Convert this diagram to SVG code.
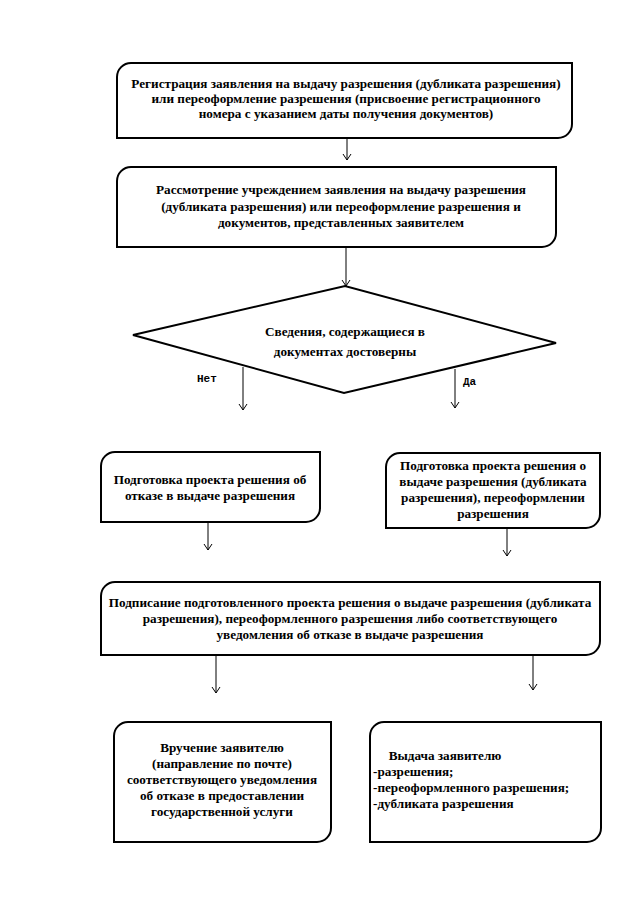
<svg xmlns="http://www.w3.org/2000/svg" width="640" height="905" viewBox="0 0 640 905">
<defs>
<marker id="v" markerWidth="10" markerHeight="10" refX="9" refY="5" orient="auto" markerUnits="userSpaceOnUse" viewBox="0 0 10 10">
<path d="M3,1 L9,5 L3,9" fill="none" stroke="#000" stroke-width="1"/>
</marker>
<style>
.box{fill:#fff;stroke:#000;stroke-width:2}
.t{font-family:"Liberation Serif","Times New Roman",serif;font-weight:bold;font-size:13.2px;fill:#000}
.c{text-anchor:middle}
.m{font-family:"Liberation Mono","Courier New",monospace;font-weight:bold;font-size:11px;fill:#000}
.ln{stroke:#000;stroke-width:1;fill:none;marker-end:url(#v)}
</style>
</defs>
<rect width="640" height="905" fill="#fff"/>
<g id="connectors">
<line class="ln" x1="347" y1="138" x2="347" y2="160"/>
<line class="ln" x1="346" y1="247" x2="346" y2="286"/>
<line class="ln" x1="243" y1="367" x2="243" y2="410"/>
<line class="ln" x1="455" y1="369" x2="455" y2="408"/>
<line class="ln" x1="208" y1="522" x2="208" y2="550"/>
<line class="ln" x1="507" y1="528" x2="507" y2="556"/>
<line class="ln" x1="216" y1="655" x2="216" y2="693"/>
<line class="ln" x1="533" y1="655" x2="533" y2="690"/>
</g>
<g id="n1">
<path class="box" d="M117,77 A14,14 0 0 1 131,63 H572 V124 A14,14 0 0 1 558,138 H117 Z"/>
<text class="t c" x="346" y="88">Регистрация заявления на выдачу разрешения (дубликата разрешения)</text>
<text class="t c" x="346" y="103">или переоформление разрешения (присвоение регистрационного</text>
<text class="t c" x="346" y="118">номера с указанием даты получения документов)</text>
</g>
<g id="n2">
<path class="box" d="M117,181 A14,14 0 0 1 131,167 H556 V233 A14,14 0 0 1 542,247 H117 Z"/>
<text class="t c" x="341" y="194">Рассмотрение учреждением заявления на выдачу разрешения</text>
<text class="t c" x="341" y="211">(дубликата разрешения) или переоформление разрешения и</text>
<text class="t c" x="341" y="227">документов, представленных заявителем</text>
</g>
<g id="n3">
<polygon points="133,335 345,286 556,343 344,393" fill="#fff" stroke="#000" stroke-width="2"/>
<text class="t c" x="345" y="336">Сведения, содержащиеся в</text>
<text class="t c" x="345" y="356">документах достоверны</text>
</g>
<text class="m" x="197" y="382">Нет</text>
<text class="m" x="463" y="385">Да</text>
<g id="n4">
<path class="box" d="M101,466 A14,14 0 0 1 115,452 H320 V508 A14,14 0 0 1 306,522 H101 Z"/>
<text class="t c" x="210" y="484">Подготовка проекта решения об</text>
<text class="t c" x="210" y="500">отказе в выдаче разрешения</text>
</g>
<g id="n5">
<path class="box" d="M386,467 A14,14 0 0 1 400,453 H600 V514 A14,14 0 0 1 586,528 H386 Z"/>
<text class="t c" x="493" y="470">Подготовка проекта решения о</text>
<text class="t c" x="493" y="486">выдаче разрешения (дубликата</text>
<text class="t c" x="493" y="502">разрешения), переоформлении</text>
<text class="t c" x="493" y="518">разрешения</text>
</g>
<g id="n6">
<path class="box" d="M101,596 A14,14 0 0 1 115,582 H600 V641 A14,14 0 0 1 586,655 H101 Z"/>
<text class="t c" x="350" y="607">Подписание подготовленного проекта решения о выдаче разрешения (дубликата</text>
<text class="t c" x="350" y="623">разрешения), переоформленного разрешения либо соответствующего</text>
<text class="t c" x="350" y="639">уведомления об отказе в выдаче разрешения</text>
</g>
<g id="n7">
<path class="box" d="M114,736 A14,14 0 0 1 128,722 H331 V828 A14,14 0 0 1 317,842 H114 Z"/>
<text class="t c" x="222" y="752">Вручение заявителю</text>
<text class="t c" x="222" y="768">(направление по почте)</text>
<text class="t c" x="222" y="784">соответствующего уведомления</text>
<text class="t c" x="222" y="800">об отказе в предоставлении</text>
<text class="t c" x="222" y="816">государственной услуги</text>
</g>
<g id="n8">
<path class="box" d="M370,736 A14,14 0 0 1 384,722 H601 V828 A14,14 0 0 1 587,842 H370 Z"/>
<text class="t c" x="445" y="760">Выдача заявителю</text>
<text class="t" x="373" y="776">-разрешения;</text>
<text class="t" x="373" y="792">-переоформленного разрешения;</text>
<text class="t" x="373" y="808">-дубликата разрешения</text>
</g>
</svg>
